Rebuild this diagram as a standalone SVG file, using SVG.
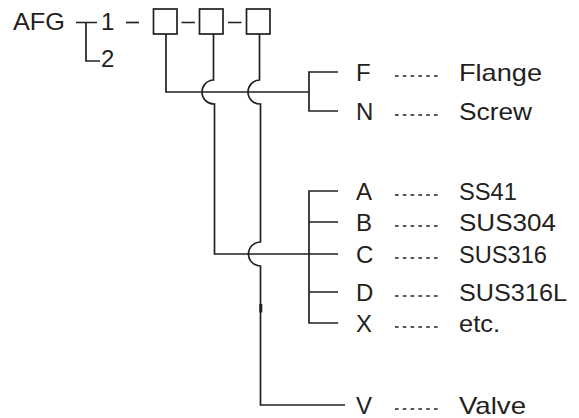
<svg xmlns="http://www.w3.org/2000/svg" width="579" height="418" viewBox="0 0 579 418">
<style>
.ln{fill:none;stroke:#231f20;stroke-width:1.7;stroke-linecap:butt;stroke-linejoin:miter}
.bx{fill:#fff;stroke:#231f20;stroke-width:1.7}
.dt{fill:none;stroke:#231f20;stroke-width:1.4;stroke-dasharray:3.6 4.2}
text{font-family:"Liberation Sans",Arial,sans-serif;font-size:24px;fill:#231f20}
</style>
<rect width="579" height="418" fill="#fff"/>
<g id="code">
<text x="13" y="29.5" textLength="52" lengthAdjust="spacingAndGlyphs">AFG</text>
<path class="ln" d="M76,22.5 H97 M86,22.5 V61 H100"/>
<text x="101" y="29.5">1</text>
<text x="101" y="67">2</text>
<path class="ln" d="M126,22.5 H139"/>
</g>
<g id="box1"><rect class="bx" x="153.5" y="9" width="23.5" height="25"/></g>
<g id="box2"><rect class="bx" x="199.5" y="9" width="23.5" height="25"/></g>
<g id="box3"><rect class="bx" x="246.5" y="9" width="23.5" height="25"/></g>
<g id="connectors">
<path class="ln" d="M181.5,22.5 H195 M228,22.5 H241.5"/>
<path class="ln" d="M166,34 V92 H309"/>
<path class="ln" d="M213.5,34 V80 A12,12 0 0 0 214.5,104 V254 H309"/>
<path class="ln" d="M259.5,34 V80 A12,12 0 0 0 260.5,104 V242 A12,12 0 0 0 260.5,266 V405 H345"/>
<rect x="259.3" y="304" width="3" height="8.5" fill="#231f20"/>
<path class="ln" d="M338,72 H309 V111 H338"/>
<path class="ln" d="M338,191 H309 V323 H338 M309,222 H338 M309,254 H338 M309,292 H338"/>
</g>
<g id="opt-F"><text x="356" y="80.5">F</text><line class="dt" x1="395" y1="76" x2="441" y2="76"/><text x="459" y="80.5" textLength="83" lengthAdjust="spacingAndGlyphs">Flange</text></g>
<g id="opt-N"><text x="356" y="119.5">N</text><line class="dt" x1="395" y1="115" x2="441" y2="115"/><text x="459" y="119.5" textLength="73" lengthAdjust="spacingAndGlyphs">Screw</text></g>
<g id="opt-A"><text x="356" y="199.5">A</text><line class="dt" x1="395" y1="195" x2="441" y2="195"/><text x="459" y="199.5" textLength="58" lengthAdjust="spacingAndGlyphs">SS41</text></g>
<g id="opt-B"><text x="356" y="230.5">B</text><line class="dt" x1="395" y1="226" x2="441" y2="226"/><text x="459" y="230.5" textLength="97" lengthAdjust="spacingAndGlyphs">SUS304</text></g>
<g id="opt-C"><text x="356" y="262.5">C</text><line class="dt" x1="395" y1="258" x2="441" y2="258"/><text x="459" y="262.5" textLength="88" lengthAdjust="spacingAndGlyphs">SUS316</text></g>
<g id="opt-D"><text x="356" y="300.5">D</text><line class="dt" x1="395" y1="296" x2="441" y2="296"/><text x="459" y="300.5" textLength="108" lengthAdjust="spacingAndGlyphs">SUS316L</text></g>
<g id="opt-X"><text x="356" y="331.5">X</text><line class="dt" x1="395" y1="327" x2="441" y2="327"/><text x="459" y="331.5" textLength="41" lengthAdjust="spacingAndGlyphs">etc.</text></g>
<g id="opt-V"><text x="356" y="413.5">V</text><line class="dt" x1="395" y1="409" x2="441" y2="409"/><text x="459" y="413.5" textLength="67" lengthAdjust="spacingAndGlyphs">Valve</text></g>
</svg>
